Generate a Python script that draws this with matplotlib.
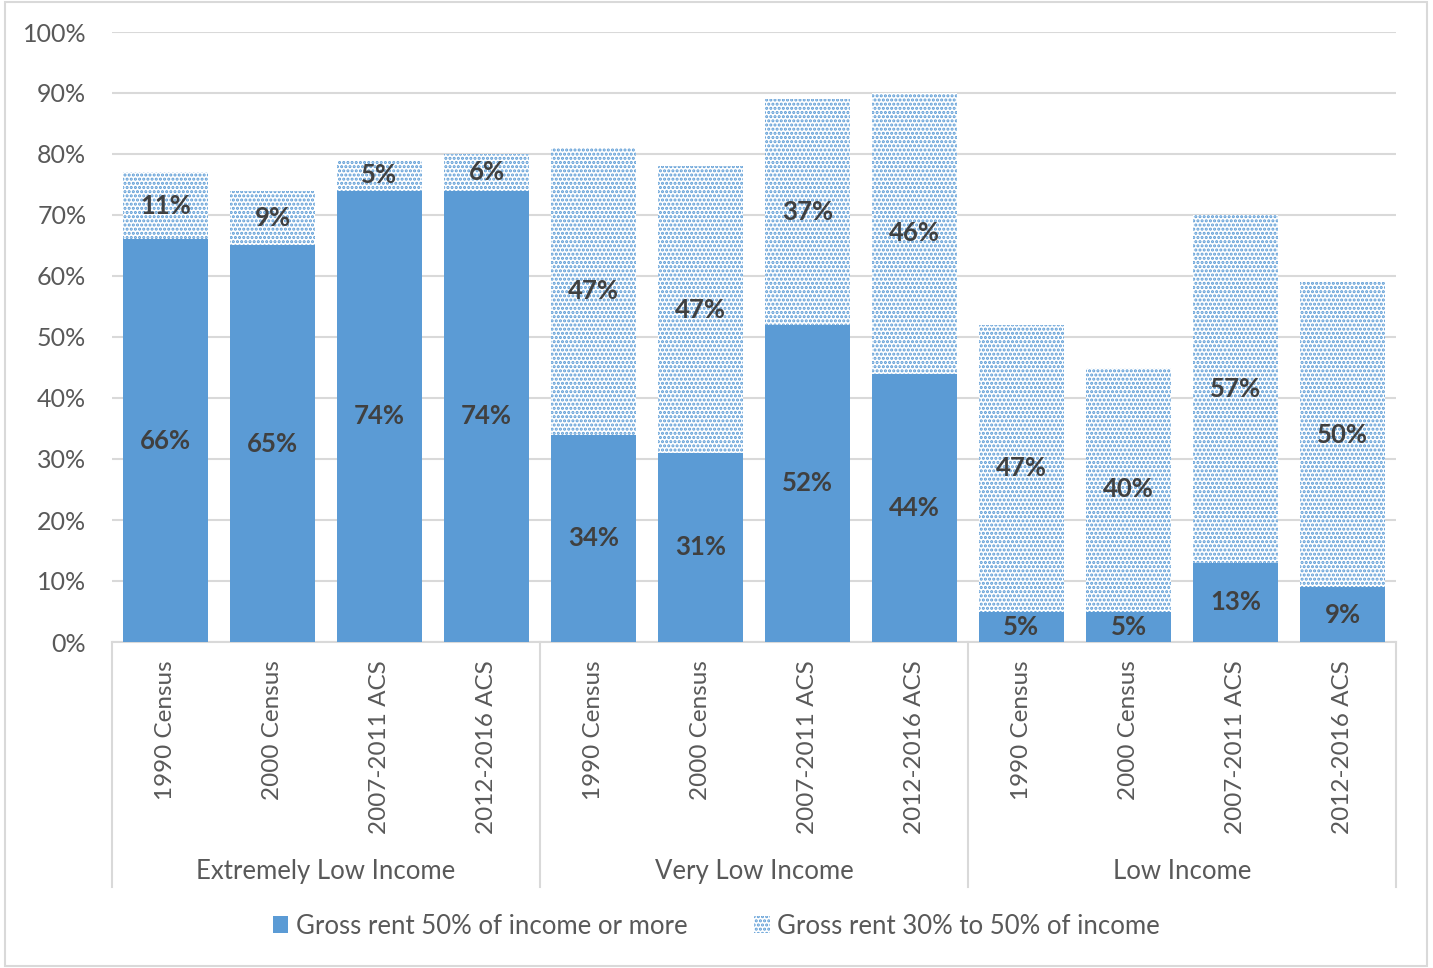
import matplotlib.pyplot as plt
from matplotlib.patches import Patch, Rectangle
from matplotlib.lines import Line2D
import numpy as np

plt.rcParams['font.family'] = ['Lato', 'DejaVu Sans']
plt.rcParams['hatch.linewidth'] = 1.5

groups = ["Extremely Low Income", "Very Low Income", "Low Income"]
periods = ["1990 Census", "2000 Census", "2007-2011 ACS", "2012-2016 ACS"]

# share of renters by cost burden, per group and period
severe = [66, 65, 74, 74, 34, 31, 52, 44, 5, 5, 13, 9]
moderate = [11, 9, 5, 6, 47, 47, 37, 46, 47, 40, 57, 50]

blue = "#5B9BD5"
grey = "#D9D9D9"
txt = "#595959"
lbl = "#404040"

fig = plt.figure(figsize=(14.33, 9.68), dpi=100)
ax = fig.add_axes([112/1433, 1-642/968, (1396-112)/1433, 610/968])

x = np.arange(len(severe))
b1 = ax.bar(x, severe, 0.8, color=blue, zorder=3)
b2 = ax.bar(x, moderate, 0.8, bottom=severe, facecolor="white",
            edgecolor=blue, hatch="....", linewidth=0, zorder=3)

for i in range(len(x)):
    ax.text(x[i], severe[i] / 2, f"{severe[i]}%", ha="center", va="center",
            fontsize=18.5, fontweight="bold", color=lbl, zorder=4)
    ax.text(x[i], severe[i] + moderate[i] / 2, f"{moderate[i]}%", ha="center",
            va="center", fontsize=18.5, fontweight="bold", color=lbl, zorder=4)

ax.set_xlim(-0.5, len(x) - 0.5)
ax.set_ylim(0, 100)
ax.set_yticks(range(0, 101, 10))
ax.set_yticklabels([f"{v}%" for v in range(0, 101, 10)], fontsize=18, color=txt)
ax.yaxis.grid(True, color=grey, linewidth=1.5, zorder=0)
ax.tick_params(axis="y", length=0, pad=18.5)
ax.tick_params(axis="x", length=0)
ax.set_xticks(x)
ax.set_xticklabels(periods * 3, rotation=90, fontsize=17.5, color=txt, va="top")
ax.tick_params(axis="x", pad=13)
for s in ["top", "right", "left"]:
    ax.spines[s].set_visible(False)
ax.spines["bottom"].set_color(grey)
ax.spines["bottom"].set_linewidth(1.5)

# group separators and group names under the axis
for k in range(4):
    xp = k * 4 - 0.5
    ax.add_line(Line2D([xp, xp], [0, -40.2], color=grey, linewidth=1.5,
                       clip_on=False, transform=ax.transData))
for k, g in enumerate(groups):
    ax.text(k * 4 + 1.5, -37.6, g, ha="center", va="center", fontsize=18.5,
            color=txt, clip_on=False)

handles = [Patch(facecolor=blue, edgecolor=blue, linewidth=0),
           Patch(facecolor="white", edgecolor=blue, hatch="....", linewidth=0)]
fig.legend(handles, ["Gross rent 50% of income or more",
                     "Gross rent 30% to 50% of income"],
           loc="center", bbox_to_anchor=(0.5, 1 - 926/968), ncol=2,
           frameon=False, fontsize=18.5, labelcolor=txt, handlelength=0.6,
           handleheight=0.6, handletextpad=0.3, columnspacing=2.6)

fig.patches.append(Rectangle((5/1433, 2/968), 1422/1433, 964/968,
                             transform=fig.transFigure, fill=False,
                             edgecolor=grey, linewidth=1.5))

fig.savefig("out.png", dpi=100)
